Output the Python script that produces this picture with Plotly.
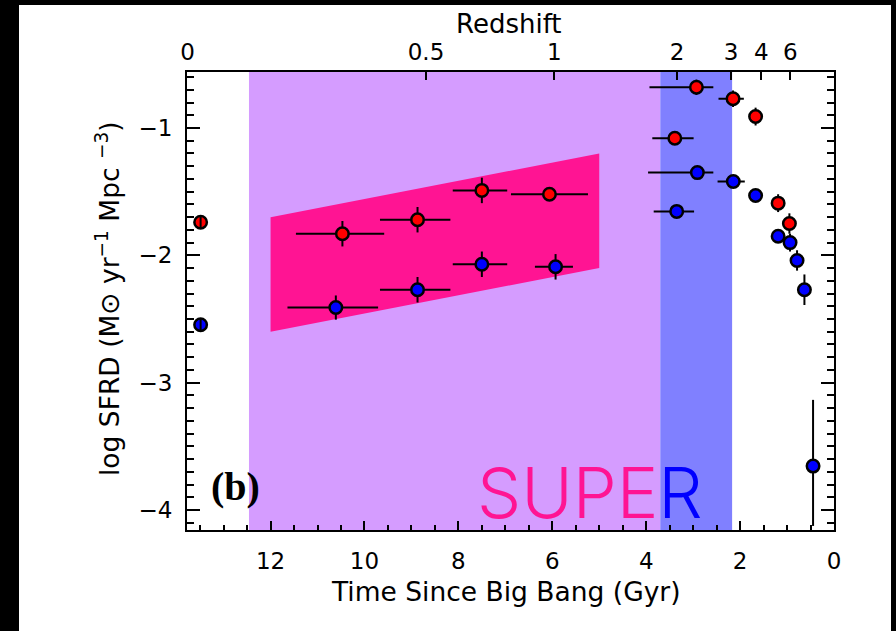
import plotly.graph_objects as go

# ---------------- data ----------------
# time since Big Bang (Gyr) and log SFRD
red_t = [13.49, 10.47, 8.87, 7.50, 6.06, 2.93, 2.15, 1.67, 3.39, 1.19, 0.95]
red_y = [-1.74, -1.83, -1.72, -1.49, -1.52, -0.68, -0.77, -0.91, -1.08, -1.59, -1.75]
red_xerr_plus = [0.0, 0.99, 0.80, 0.62, 0.82, 1.00, 0.31, 0.0, 0.48, 0.0, 0.0]
red_xerr_minus = [0.0, 0.89, 0.70, 0.54, 0.82, 0.36, 0.23, 0.0, 0.40, 0.0, 0.0]
red_yerr = [0.0, 0.10, 0.10, 0.10, 0.05, 0.06, 0.065, 0.07, 0.04, 0.07, 0.08]

blue_t = [13.49, 10.61, 8.87, 7.50, 5.93, 2.91, 2.145, 1.67, 3.35, 1.19, 0.936, 0.787, 0.63, 0.446]
blue_y = [-2.545, -2.41, -2.27, -2.07, -2.09, -1.35, -1.42, -1.53, -1.655, -1.85, -1.90, -2.04, -2.27, -3.655]
blue_xerr_plus = [0.0, 1.03, 0.80, 0.62, 0.44, 1.05, 0.335, 0.0, 0.49, 0.0, 0.0, 0.0, 0.0, 0.0]
blue_xerr_minus = [0.0, 0.90, 0.70, 0.54, 0.37, 0.34, 0.245, 0.0, 0.37, 0.0, 0.0, 0.0, 0.0, 0.0]
blue_yerr_plus = [0.0, 0.095, 0.10, 0.10, 0.10, 0.05, 0.05, 0.05, 0.05, 0.05, 0.07, 0.08, 0.12, 0.52]
blue_yerr_minus = [0.0, 0.095, 0.10, 0.10, 0.10, 0.05, 0.05, 0.05, 0.05, 0.05, 0.07, 0.08, 0.12, 0.47]

# local points whose error bars are drawn over the symbols
local_t = [13.49, 13.49]
local_y = [-1.74, -2.545]
local_yerr = [0.045, 0.045]

# band (time, log SFRD)
band_t = [12.0, 5.0, 5.0, 12.0]
band_y = [-1.70, -1.20, -2.10, -2.60]

# shaded epochs (time range, Gyr)
purple_span = [12.46, 3.70]
blue_span = [3.70, 2.17]

# axes
time_ticks = [0, 2, 4, 6, 8, 10, 12]
z_labels = ["0", "0.5", "1", "2", "3", "4", "6"]
z_ages = [13.77, 8.69, 5.955, 3.34, 2.19, 1.55, 0.93]
x_range = [13.78, 0.0]
y_range = [-4.157, -0.56]

FONT = "DejaVu Sans"

fig = go.Figure()

fig.add_trace(go.Scatter(
    x=band_t, y=band_y, mode="lines", fill="toself",
    fillcolor="#FF1493", line=dict(width=0), hoverinfo="skip", showlegend=False))

err_style = dict(color="black", thickness=2, width=0)

fig.add_trace(go.Scatter(
    x=red_t, y=red_y, mode="markers",
    marker=dict(size=12.5, color="#FF0000", line=dict(color="black", width=2.5)),
    error_x=dict(type="data", symmetric=False, array=red_xerr_plus, arrayminus=red_xerr_minus, **err_style),
    error_y=dict(type="data", array=red_yerr, **err_style),
    showlegend=False))

fig.add_trace(go.Scatter(
    x=blue_t, y=blue_y, mode="markers",
    marker=dict(size=12.5, color="#0000FF", line=dict(color="black", width=2.5)),
    error_x=dict(type="data", symmetric=False, array=blue_xerr_plus, arrayminus=blue_xerr_minus, **err_style),
    error_y=dict(type="data", symmetric=False, array=blue_yerr_plus, arrayminus=blue_yerr_minus, **err_style),
    showlegend=False))

fig.add_trace(go.Scatter(
    x=local_t, y=local_y, mode="markers",
    marker=dict(size=2, color="rgba(0,0,0,0)"),
    error_y=dict(type="data", array=local_yerr, color="black", thickness=2, width=0),
    showlegend=False, hoverinfo="skip"))

# dummy trace for top axis
fig.add_trace(go.Scatter(x=[z_ages[0]], y=[y_range[0]], xaxis="x2", mode="markers",
                         marker=dict(size=1, color="rgba(0,0,0,0)"), showlegend=False, hoverinfo="skip"))

shapes = [
    dict(type="rect", xref="x", yref="paper", x0=purple_span[0], x1=purple_span[1], y0=0, y1=1,
         fillcolor="#D59CFF", line=dict(width=0), layer="below"),
    dict(type="rect", xref="x", yref="paper", x0=blue_span[0], x1=blue_span[1], y0=0, y1=1,
         fillcolor="#8080FF", line=dict(width=0), layer="below"),
]
# black border of the picture (pixel -> paper coords)
L, R, T, B = 187, 834, 72, 530
W, H = R - L, B - T
def px(p):
    return (p - L) / W
def py(p):
    return (B - p) / H
for (x0, x1, y0, y1) in [(0, 19, 0, 631), (0, 896, 0, 5), (891, 896, 0, 631)]:
    shapes.append(dict(type="rect", xref="paper", yref="paper", x0=px(x0), x1=px(x1),
                       y0=py(y1), y1=py(y0), fillcolor="black", line=dict(width=0), layer="above"))

axis_common = dict(showgrid=False, zeroline=False, showline=True, linecolor="black", linewidth=2,
                   ticks="inside", tickcolor="black", tickwidth=2,
                   tickfont=dict(family=FONT, size=23, color="black"))

def note(text, x, y, size, **kw):
    d = dict(text=text, xref="paper", yref="paper", x=px(x), y=py(y), xanchor="center",
             yanchor="middle", showarrow=False, font=dict(family=FONT, size=size, color="black"))
    d.update(kw)
    return d

fig.update_layout(
    width=896, height=631,
    margin=dict(l=L, r=896 - R, t=T, b=631 - B),
    paper_bgcolor="white", plot_bgcolor="rgba(0,0,0,0)",
    shapes=shapes,
    xaxis=dict(range=x_range, tickvals=time_ticks, ticklen=9, ticklabelstandoff=9,
               minor=dict(dtick=0.5, ticklen=5, tickwidth=2, tickcolor="black", ticks="inside"),
               mirror=False, **axis_common),
    xaxis2=dict(range=x_range, overlaying="x", side="top", anchor="y", ticklabelstandoff=1,
                tickvals=z_ages, ticktext=z_labels, ticklen=8, **axis_common),
    yaxis=dict(range=y_range, tickvals=[-1, -2, -3, -4], ticktext=["\u22121", "\u22122", "\u22123", "\u22124"],
               ticklen=13, mirror="ticks", ticklabelstandoff=8,
               minor=dict(dtick=0.1, ticklen=7, tickwidth=2, tickcolor="black", ticks="inside"),
               **axis_common),
    annotations=[
        note("Time Since Big Bang (Gyr)", 506, 591, 26.5),
        note("Redshift", 509, 24, 26),
        note("log SFRD (M\u2299 yr<sup>\u22121</sup> Mpc <sup>\u22123</sup>)", 108, 299, 26.5, textangle=-90),
        note("<b>(b)</b>", 235, 486, 40, font=dict(family="Liberation Serif", size=40, color="black")),
        note('<span style="color:#FF1493">SUPE</span><span style="color:#0000FF">R</span>', 590, 492, 70,
             font=dict(family="Inter", size=70, weight=270)),
    ],
)

fig.write_html("out.html")
